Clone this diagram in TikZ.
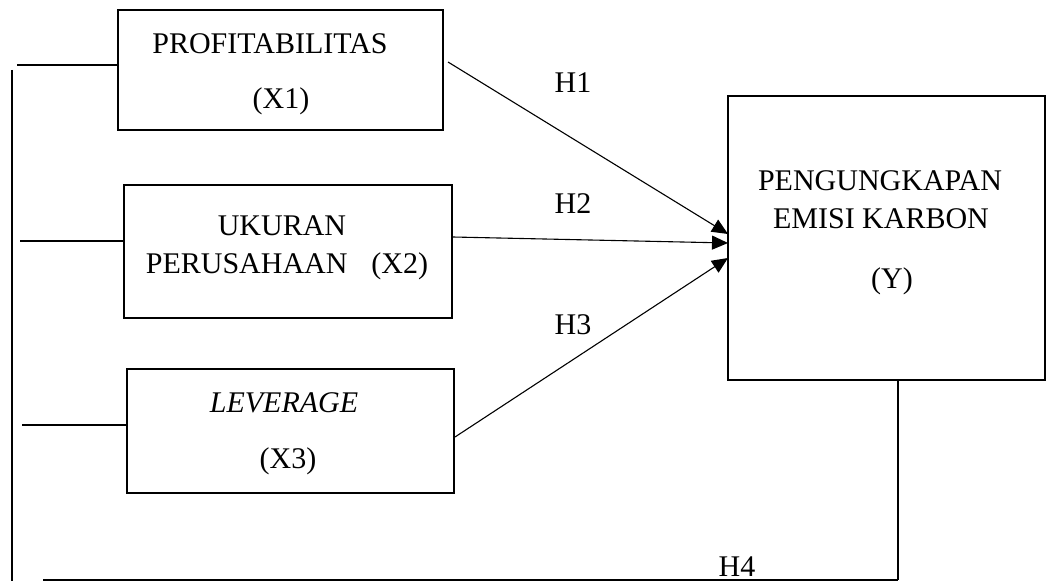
\documentclass[tikz,border=0pt]{standalone}
\usepackage{fontspec}
\setmainfont{Liberation Serif}
\usetikzlibrary{arrows.meta}
\begin{document}
\begin{tikzpicture}[x=1pt,y=-1pt,
  box/.style={draw,line width=2.2pt,inner sep=0pt},
  lbl/.style={font=\fontsize{30}{34}\selectfont,inner sep=0pt},
  stub/.style={line width=2pt},
  thin/.style={line width=1.3pt},
  arr/.style={line width=1.1pt,-{Triangle[length=16pt,width=14pt]}}]
\useasboundingbox (0,0) rectangle (1046,583);
% boxes
\node[box,minimum width=325pt,minimum height=120pt] (x1) at (280.5,70) {};
\node[box,minimum width=328pt,minimum height=133pt] (x2) at (288,251.5) {};
\node[box,minimum width=327pt,minimum height=124pt] (x3) at (290.5,431) {};
\node[box,minimum width=317pt,minimum height=284pt] (y) at (886.5,238) {};
% texts
\node[lbl] (t1a) at (270,44) {PROFITABILITAS};
\node[lbl] (t1b) at (281,101) {(X1)};
\node[lbl] (t2a) at (282,226) {UKURAN};
\node[lbl] (t2b) at (287,266) {PERUSAHAAN\hspace{0.8em}(X2)};
\node[lbl] (t3a) at (284,403) {\itshape LEVERAGE};
\node[lbl] (t3b) at (288,461) {(X3)};
\node[lbl] (tya) at (880,181) {PENGUNGKAPAN};
\node[lbl] (tyb) at (881,219) {EMISI KARBON};
\node[lbl] (tyc) at (892,281) {(Y)};
% hypothesis labels
\node[lbl] (h1) at (573,83) {H1};
\node[lbl] (h2) at (573,204) {H2};
\node[lbl] (h3) at (573,325) {H3};
\node[lbl] (h4) at (737,567) {H4};
% arrows
\coordinate (e1) at (728,234);
\coordinate (e2) at (728,243);
\coordinate (e3) at (728,258);
\coordinate (s1) at (448,62);
\coordinate (s2) at (453,237);
\coordinate (s3) at (455,437);
\draw[arr] (s1) -- (e1);
\draw[arr] (s2) -- (e2);
\draw[arr] (s3) -- (e3);
% left stubs
\coordinate (l1) at (17,65);
\coordinate (l2) at (20,241);
\coordinate (l3) at (22,425);
\draw[stub] (l1) -- (x1.west |- l1);
\draw[stub] (l2) -- (x2.west |- l2);
\draw[stub] (l3) -- (x3.west |- l3);
% left vertical and bottom line
\coordinate (vt) at (12,70);
\coordinate (vb) at (12,581);
\draw[thin] (vt) -- (vb);
\coordinate (bl) at (43,580);
\coordinate (br) at (898,580);
\draw[thin] (bl) -- (br);
\draw[thin] (y.south -| br) -- (br);
\end{tikzpicture}
\end{document}
